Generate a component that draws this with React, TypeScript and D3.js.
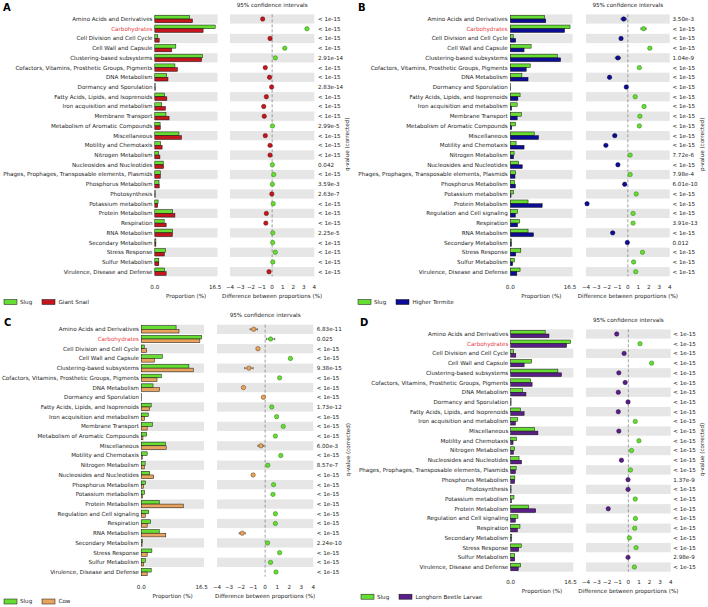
import React from 'react';
import * as d3 from 'd3';

const FONT = '"DejaVu Sans", sans-serif';

const CATEGORIES = [
  'Amino Acids and Derivatives', 'Carbohydrates', 'Cell Division and Cell Cycle', 'Cell Wall and Capsule',
  'Clustering-based subsystems', 'Cofactors, Vitamins, Prosthetic Groups, Pigments', 'DNA Metabolism',
  'Dormancy and Sporulation', 'Fatty Acids, Lipids, and Isoprenoids', 'Iron acquisition and metabolism',
  'Membrane Transport', 'Metabolism of Aromatic Compounds', 'Miscellaneous', 'Motility and Chemotaxis',
  'Nitrogen Metabolism', 'Nucleosides and Nucleotides', 'Phages, Prophages, Transposable elements, Plasmids',
  'Phosphorus Metabolism', 'Photosynthesis', 'Potassium metabolism', 'Protein Metabolism',
  'Regulation and Cell signaling', 'Respiration', 'RNA Metabolism', 'Secondary Metabolism',
  'Stress Response', 'Sulfur Metabolism', 'Virulence, Disease and Defense',
];
const SLUG = [
  9.5, 16.5, 0.8, 5.75, 13.0, 5.5, 3.2, 0.1, 2.7, 1.9, 3.05, 1.45, 6.6, 1.6,
  1.05, 2.3, 1.5, 1.15, 0.1, 0.9, 4.9, 2.0, 2.55, 4.9, 0.3, 2.9, 1.1, 2.7,
];

// Panel A: Slug vs Giant Snail
const A_CATS = CATEGORIES.filter((c) => c !== 'Regulation and Cell signaling');
const A_OTHER = [10.3, 13.2, 1.2, 4.6, 12.8, 6.2, 3.6, 0.12, 3.3, 2.9, 3.9, 1.5, 7.3, 2.0, 1.4, 2.4, 1.5, 1.2, 0.1, 0.8, 5.5, 3.1, 4.8, 0.3, 2.6, 1.1, 3.1];
const A_DIFF = [-0.9, 3.3, -0.2, 1.2, 0.3, -0.65, -0.25, -0.05, -0.55, -0.8, -0.75, 0.03, -0.65, -0.2, -0.2, 0.02, 0.15, 0.02, -0.03, 0.1, -0.55, -0.6, 0.06, 0.05, 0.3, 0.06, -0.3];
const A_CI = A_DIFF.map(() => 0.05);
const A_P = ['< 1e-15', '< 1e-15', '< 1e-15', '< 1e-15', '2.91e-14', '< 1e-15', '< 1e-15', '2.83e-14', '< 1e-15', '< 1e-15', '< 1e-15', '2.99e-5', '< 1e-15', '< 1e-15', '< 1e-15', '0.042', '< 1e-15', '3.59e-3', '2.63e-7', '< 1e-15', '< 1e-15', '< 1e-15', '2.25e-5', '< 1e-15', '< 1e-15', '< 1e-15', '< 1e-15'];

// Panel B: Slug vs Higher Termite
const B_CATS = CATEGORIES.filter((c) => c !== 'Photosynthesis');
const B_OTHER = [9.8, 15.0, 1.5, 3.8, 13.9, 4.4, 4.9, 0.1, 2.1, 0.35, 1.9, 0.4, 7.8, 3.8, 0.9, 3.3, 1.3, 1.4, 0.2, 8.8, 1.4, 2.0, 6.4, 0.3, 1.5, 0.65, 1.8];
const B_DIFF = [-0.4, 1.5, -0.65, 2.1, -0.95, 1.1, -1.75, -0.15, 0.7, 1.55, 1.15, 1.1, -1.25, -2.1, 0.22, -0.95, 0.22, -0.3, 0.8, -3.9, 0.5, 0.5, -1.45, -0.05, 1.4, 0.55, 0.75];
const B_CI = [0.25, 0.25, 0.05, 0.05, 0.25, 0.05, 0.05, 0.05, 0.05, 0.05, 0.05, 0.05, 0.15, 0.05, 0.05, 0.05, 0.05, 0.05, 0.05, 0.05, 0.05, 0.05, 0.15, 0.05, 0.05, 0.05, 0.05];
const B_P = ['3.50e-3', '< 1e-15', '< 1e-15', '< 1e-15', '1.04e-9', '< 1e-15', '< 1e-15', '< 1e-15', '< 1e-15', '< 1e-15', '< 1e-15', '< 1e-15', '< 1e-15', '< 1e-15', '7.72e-6', '< 1e-15', '7.98e-4', '6.01e-10', '< 1e-15', '< 1e-15', '< 1e-15', '3.91e-13', '< 1e-15', '0.012', '< 1e-15', '< 1e-15', '< 1e-15'];

// Panel C: Slug vs Cow
const C_CATS = CATEGORIES.filter((c) => c !== 'Phages, Prophages, Transposable elements, Plasmids' && c !== 'Photosynthesis');
const C_OTHER = [10.3, 16.0, 1.45, 3.6, 14.2, 4.3, 5.0, 0.1, 2.3, 0.9, 1.6, 0.45, 6.8, 0.3, 0.8, 3.4, 0.55, 0.35, 11.5, 1.1, 1.6, 6.7, 0.2, 1.6, 0.65, 1.6];
const C_DIFF = [-0.95, 0.45, -0.6, 2.1, -1.35, 1.2, -1.8, -0.15, 0.55, 0.95, 1.5, 0.85, -0.35, 1.3, 0.22, -1.0, 0.7, 0.65, -6.6, 0.85, 0.85, -1.9, 0.2, 1.2, 0.45, 0.9];
const C_CI = [0.3, 0.35, 0.05, 0.05, 0.35, 0.05, 0.1, 0.05, 0.05, 0.05, 0.05, 0.05, 0.25, 0.05, 0.05, 0.1, 0.05, 0.05, 0.3, 0.05, 0.05, 0.25, 0.05, 0.05, 0.05, 0.05];
const C_P = ['6.83e-11', '0.025', '< 1e-15', '< 1e-15', '9.38e-15', '< 1e-15', '< 1e-15', '< 1e-15', '1.73e-12', '< 1e-15', '< 1e-15', '< 1e-15', '6.00e-3', '< 1e-15', '8.57e-7', '< 1e-15', '< 1e-15', '< 1e-15', '< 1e-15', '< 1e-15', '< 1e-15', '< 1e-15', '2.24e-10', '< 1e-15', '< 1e-15', '< 1e-15'];

// Panel D: Slug vs Longhorn Beetle Larvae
const D_CATS = CATEGORIES.filter((c) => c !== 'Membrane Transport' && c !== 'Metabolism of Aromatic Compounds' && c !== 'RNA Metabolism');
const D_OTHER = [10.55, 15.4, 1.4, 3.7, 14.0, 5.9, 4.2, 0.1, 3.7, 1.3, 7.5, 0.65, 0.75, 3.0, 1.3, 1.1, 0.1, 0.2, 6.9, 1.3, 1.85, 0.2, 2.2, 1.1, 2.1];
const D_DIFF = [-1.1, 1.1, -0.4, 2.2, -0.9, -0.3, -0.95, -0.03, -0.95, 0.65, -0.9, 1.0, 0.3, -0.65, 0.2, -0.03, -0.03, 0.65, -1.9, 0.67, 0.6, 0.1, 0.73, -0.03, 0.57];
const D_CI = D_DIFF.map(() => 0.05);
const D_P = ['< 1e-15', '< 1e-15', '< 1e-15', '< 1e-15', '< 1e-15', '< 1e-15', '< 1e-15', '< 1e-15', '< 1e-15', '< 1e-15', '< 1e-15', '< 1e-15', '< 1e-15', '< 1e-15', '< 1e-15', '1.37e-9', '< 1e-15', '< 1e-15', '< 1e-15', '< 1e-15', '< 1e-15', '< 1e-15', '< 1e-15', '2.98e-9', '< 1e-15'];

const DIFF_TICKS = [-4, -3, -2, -1, 0, 1, 2, 3, 4];
const BAR_TICKS = [0, 16.5];

const GREEN = '#66dd33';
const GREEN_EDGE = '#2a7a10';
const BAND = '#e6e6e6';

interface Layout {
  letter: string; other: string; color: string; edge: string; yLabel: string;
  cats: string[]; otherVals: number[]; diff: number[]; ci: number[]; p: string[];
  ox: number; letterY: number; titleY: number; row0: number; step: number;
  labelRight: number; bar0: number; barPerPct: number; barBandEnd: number;
  diffL: number; diffR: number; pX: number; vX: number;
  tickY: number; axisTitleY: number; legendY: number; legendX: number;
}

const PANELS: Layout[] = [
  {
    letter: 'A', other: 'Giant Snail', color: '#c4161c', edge: '#5a0a0a', yLabel: 'q-value (corrected)',
    cats: A_CATS, otherVals: A_OTHER, diff: A_DIFF, ci: A_CI, p: A_P,
    ox: 3, letterY: 11, titleY: 7, row0: 19, step: 9.72,
    labelRight: 152.5, bar0: 154.8, barPerPct: 3.66, barBandEnd: 217.5,
    diffL: 230, diffR: 314.3, pX: 318, vX: 347,
    tickY: 288.5, axisTitleY: 297.5, legendY: 302, legendX: 4,
  },
  {
    letter: 'B', other: 'Higher Termite', color: '#0c0c96', edge: '#05053a', yLabel: 'p-value (corrected)',
    cats: B_CATS, otherVals: B_OTHER, diff: B_DIFF, ci: B_CI, p: B_P,
    ox: 358, letterY: 11, titleY: 7, row0: 19, step: 9.72,
    labelRight: 507.7, bar0: 510.3, barPerPct: 3.62, barBandEnd: 572.5,
    diffL: 586, diffR: 669.7, pX: 672.5, vX: 702,
    tickY: 288.5, axisTitleY: 297.5, legendY: 302, legendX: 358,
  },
  {
    letter: 'C', other: 'Cow', color: '#e8a35e', edge: '#6a4010', yLabel: 'q-value (corrected)',
    cats: C_CATS, otherVals: C_OTHER, diff: C_DIFF, ci: C_CI, p: C_P,
    ox: 4, letterY: 326, titleY: 316.5, row0: 329.3, step: 9.71,
    labelRight: 139, bar0: 141.3, barPerPct: 3.66, barBandEnd: 204,
    diffL: 217, diffR: 313.3, pX: 316.7, vX: 348,
    tickY: 588.5, axisTitleY: 597.5, legendY: 601.5, legendX: 4,
  },
  {
    letter: 'D', other: 'Longhorn Beetle Larvae', color: '#5a1e87', edge: '#2a0a40', yLabel: 'q-value (corrected)',
    cats: D_CATS, otherVals: D_OTHER, diff: D_DIFF, ci: D_CI, p: D_P,
    ox: 360, letterY: 326, titleY: 321.5, row0: 334, step: 9.71,
    labelRight: 508.3, bar0: 510.7, barPerPct: 3.63, barBandEnd: 573.3,
    diffL: 586, diffR: 670.7, pX: 673.3, vX: 702,
    tickY: 584, axisTitleY: 593, legendY: 596.7, legendX: 361,
  },
];

const FS = 5.6;

function Panel({ L }: { L: Layout }) {
  const n = L.cats.length;
  const y = d3.scaleLinear().domain([0, n - 1]).range([L.row0, L.row0 + (n - 1) * L.step]);
  const xBar = d3.scaleLinear().domain([0, 16.5]).range([L.bar0, L.bar0 + 16.5 * L.barPerPct]);
  const xDiff = d3.scaleLinear().domain([-4, 4]).range([L.diffL, L.diffR]);
  const bandH = 9.3;
  const barH = 3.7;
  const yTop = y(0) - bandH / 2;
  const yBot = y(n - 1) + bandH / 2;
  const midY = (y(0) + y(n - 1)) / 2 - 1;
  return (
    <g fontFamily={FONT} fontSize={FS} fill="#222">
      <text x={L.ox} y={L.letterY} fontSize={10} fontWeight="bold" fill="#000">{L.letter}</text>
      <text x={xDiff(0)} y={L.titleY} textAnchor="middle">95% confidence intervals</text>
      {L.cats.map((c, i) => (
        <g key={c}>
          {i % 2 === 0 && (
            <>
              <rect x={L.bar0} y={y(i) - bandH / 2} width={L.barBandEnd - L.bar0} height={bandH} fill={BAND} />
              <rect x={L.diffL} y={y(i) - bandH / 2} width={L.diffR - L.diffL} height={bandH} fill={BAND} />
            </>
          )}
          <text x={L.labelRight} y={y(i)} dy="0.35em" textAnchor="end" fill={c === 'Carbohydrates' ? '#e8383d' : '#222'}>{c}</text>
          <text x={L.pX} y={y(i)} dy="0.35em">{L.p[i]}</text>
        </g>
      ))}
      {L.cats.map((c, i) => {
        const s = SLUG[CATEGORIES.indexOf(c)];
        const o = L.otherVals[i];
        return (
          <g key={'b' + c}>
            <rect x={xBar(0)} y={y(i) - barH} width={Math.max(0.3, xBar(s) - xBar(0))} height={barH} fill={GREEN} stroke="#111" strokeWidth={0.5} />
            <rect x={xBar(0)} y={y(i)} width={Math.max(0.3, xBar(o) - xBar(0))} height={barH} fill={L.color} stroke="#111" strokeWidth={0.5} />
          </g>
        );
      })}
      <line x1={xDiff(0)} x2={xDiff(0)} y1={yTop} y2={yBot} stroke="#777" strokeWidth={0.7} strokeDasharray="3,2" />
      {L.cats.map((c, i) => {
        const d = L.diff[i];
        if (d < -4 || d > 4) return null;
        const pos = d > 0;
        const lo = xDiff(d - L.ci[i]);
        const hi = xDiff(d + L.ci[i]);
        return (
          <g key={'d' + c}>
            <line x1={lo} x2={hi} y1={y(i)} y2={y(i)} stroke="#333" strokeWidth={0.7} />
            <line x1={lo} x2={lo} y1={y(i) - 1.2} y2={y(i) + 1.2} stroke="#333" strokeWidth={0.6} />
            <line x1={hi} x2={hi} y1={y(i) - 1.2} y2={y(i) + 1.2} stroke="#333" strokeWidth={0.6} />
            <circle cx={xDiff(d)} cy={y(i)} r={2.2} fill={pos ? GREEN : L.color} stroke={pos ? GREEN_EDGE : L.edge} strokeWidth={0.5} />
          </g>
        );
      })}
      {BAR_TICKS.map((t) => (
        <text key={'bt' + t} x={xBar(t)} y={L.tickY} textAnchor="middle">{d3.format('.1f')(t)}</text>
      ))}
      {DIFF_TICKS.map((t) => (
        <text key={'dt' + t} x={xDiff(t)} y={L.tickY} textAnchor="middle">{t < 0 ? '\u2212' + Math.abs(t) : String(t)}</text>
      ))}
      <text x={(L.bar0 + L.barBandEnd) / 2} y={L.axisTitleY} textAnchor="middle">Proportion (%)</text>
      <text x={xDiff(0)} y={L.axisTitleY} textAnchor="middle">Difference between proportions (%)</text>
      <text transform={`translate(${L.vX},${midY}) rotate(-90)`} textAnchor="middle" dy="0.35em">{L.yLabel}</text>
      <g transform={`translate(${L.legendX},${L.legendY})`}>
        <rect x={0} y={-2.5} width={13} height={5} fill={GREEN} stroke="#111" strokeWidth={0.5} />
        <text x={16} y={0} dy="0.35em">Slug</text>
        <rect x={38} y={-2.5} width={13} height={5} fill={L.color} stroke="#111" strokeWidth={0.5} />
        <text x={54.5} y={0} dy="0.35em">{L.other}</text>
      </g>
    </g>
  );
}

export default function App() {
  return (
    <svg width={708} height={607} style={{ position: 'absolute', left: 0, top: 0, background: '#fff' }}>
      <rect width={708} height={607} fill="#fff" />
      {PANELS.map((L) => <Panel key={L.letter} L={L} />)}
    </svg>
  );
}
